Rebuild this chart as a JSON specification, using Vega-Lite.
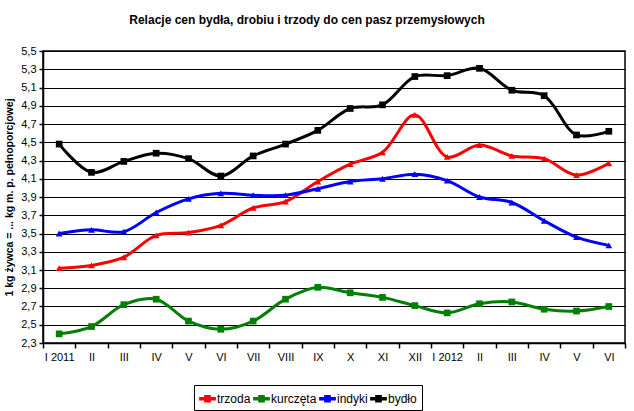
{
  "$schema": "https://vega.github.io/schema/vega-lite/v6.json",
  "autosize": "none",
  "width": 582,
  "height": 292,
  "padding": {"left": 43, "top": 51, "right": 9, "bottom": 68},
  "background": "white",
  "title": {
    "text": "Relacje cen bydła, drobiu i trzody do cen pasz przemysłowych",
    "fontSize": 12,
    "fontWeight": "bold",
    "font": "Liberation Sans, Arial, sans-serif",
    "color": "black",
    "anchor": "middle",
    "frame": "group",
    "dx": -27,
    "offset": 18
  },
  "datasets": {
    "d": [
      {"i": 0, "s": "trzoda", "v": 3.12}, {"i": 1, "s": "trzoda", "v": 3.15}, {"i": 2, "s": "trzoda", "v": 3.24}, {"i": 3, "s": "trzoda", "v": 3.48}, {"i": 4, "s": "trzoda", "v": 3.51}, {"i": 5, "s": "trzoda", "v": 3.59}, {"i": 6, "s": "trzoda", "v": 3.78}, {"i": 7, "s": "trzoda", "v": 3.85}, {"i": 8, "s": "trzoda", "v": 4.07}, {"i": 9, "s": "trzoda", "v": 4.26}, {"i": 10, "s": "trzoda", "v": 4.39}, {"i": 11, "s": "trzoda", "v": 4.80}, {"i": 12, "s": "trzoda", "v": 4.34}, {"i": 13, "s": "trzoda", "v": 4.47}, {"i": 14, "s": "trzoda", "v": 4.35}, {"i": 15, "s": "trzoda", "v": 4.32}, {"i": 16, "s": "trzoda", "v": 4.14}, {"i": 17, "s": "trzoda", "v": 4.27},
      {"i": 0, "s": "kurczęta", "v": 2.40}, {"i": 1, "s": "kurczęta", "v": 2.48}, {"i": 2, "s": "kurczęta", "v": 2.72}, {"i": 3, "s": "kurczęta", "v": 2.78}, {"i": 4, "s": "kurczęta", "v": 2.54}, {"i": 5, "s": "kurczęta", "v": 2.45}, {"i": 6, "s": "kurczęta", "v": 2.54}, {"i": 7, "s": "kurczęta", "v": 2.78}, {"i": 8, "s": "kurczęta", "v": 2.91}, {"i": 9, "s": "kurczęta", "v": 2.85}, {"i": 10, "s": "kurczęta", "v": 2.80}, {"i": 11, "s": "kurczęta", "v": 2.71}, {"i": 12, "s": "kurczęta", "v": 2.63}, {"i": 13, "s": "kurczęta", "v": 2.73}, {"i": 14, "s": "kurczęta", "v": 2.75}, {"i": 15, "s": "kurczęta", "v": 2.67}, {"i": 16, "s": "kurczęta", "v": 2.65}, {"i": 17, "s": "kurczęta", "v": 2.70},
      {"i": 0, "s": "indyki", "v": 3.50}, {"i": 1, "s": "indyki", "v": 3.54}, {"i": 2, "s": "indyki", "v": 3.52}, {"i": 3, "s": "indyki", "v": 3.73}, {"i": 4, "s": "indyki", "v": 3.88}, {"i": 5, "s": "indyki", "v": 3.94}, {"i": 6, "s": "indyki", "v": 3.92}, {"i": 7, "s": "indyki", "v": 3.92}, {"i": 8, "s": "indyki", "v": 3.99}, {"i": 9, "s": "indyki", "v": 4.07}, {"i": 10, "s": "indyki", "v": 4.10}, {"i": 11, "s": "indyki", "v": 4.15}, {"i": 12, "s": "indyki", "v": 4.08}, {"i": 13, "s": "indyki", "v": 3.90}, {"i": 14, "s": "indyki", "v": 3.84}, {"i": 15, "s": "indyki", "v": 3.64}, {"i": 16, "s": "indyki", "v": 3.46}, {"i": 17, "s": "indyki", "v": 3.37},
      {"i": 0, "s": "bydło", "v": 4.48}, {"i": 1, "s": "bydło", "v": 4.17}, {"i": 2, "s": "bydło", "v": 4.29}, {"i": 3, "s": "bydło", "v": 4.38}, {"i": 4, "s": "bydło", "v": 4.32}, {"i": 5, "s": "bydło", "v": 4.13}, {"i": 6, "s": "bydło", "v": 4.35}, {"i": 7, "s": "bydło", "v": 4.48}, {"i": 8, "s": "bydło", "v": 4.63}, {"i": 9, "s": "bydło", "v": 4.87}, {"i": 10, "s": "bydło", "v": 4.91}, {"i": 11, "s": "bydło", "v": 5.22}, {"i": 12, "s": "bydło", "v": 5.23}, {"i": 13, "s": "bydło", "v": 5.31}, {"i": 14, "s": "bydło", "v": 5.07}, {"i": 15, "s": "bydło", "v": 5.01}, {"i": 16, "s": "bydło", "v": 4.58}, {"i": 17, "s": "bydło", "v": 4.62}
    ]
  },
  "data": {"name": "d"},
  "encoding": {
    "x": {
      "field": "i",
      "type": "ordinal",
      "bandPosition": 0.5,
      "scale": {"type": "band", "paddingInner": 0, "paddingOuter": 0},
      "axis": {
        "title": null,
        "labelAngle": 0,
        "tickBand": "extent",
        "domainColor": "black",
        "domainWidth": 1.5,
        "tickColor": "black",
        "tickWidth": 1.5,
        "tickSize": 5,
        "labelPadding": 3,
        "labelFontSize": 11,
        "labelColor": "black",
        "labelFont": "Liberation Sans, Arial, sans-serif",
        "labelExpr": "['I 2011','II','III','IV','V','VI','VII','VIII','IX','X','XI','XII','I 2012','II','III','IV','V','VI'][datum.value]"
      }
    },
    "y": {
      "field": "v",
      "type": "quantitative",
      "scale": {"domain": [2.3, 5.5], "nice": false, "zero": false},
      "axis": {
        "title": "1 kg żywca = ... kg m. p. pełnoporcjowej",
        "titleFontSize": 10.5,
        "titleFontWeight": "bold",
        "titleColor": "black",
        "titleFont": "Liberation Sans, Arial, sans-serif",
        "titleX": -29,
        "values": [2.3, 2.5, 2.7, 2.9, 3.1, 3.3, 3.5, 3.7, 3.9, 4.1, 4.3, 4.5, 4.7, 4.9, 5.1, 5.3, 5.5],
        "labelExpr": "replace(format(datum.value, '.1f'), '.', ',')",
        "labelFontSize": 11,
        "labelColor": "black",
        "labelFont": "Liberation Sans, Arial, sans-serif",
        "labelPadding": 3,
        "grid": true,
        "gridColor": "black",
        "gridWidth": 1.2,
        "gridOpacity": 1,
        "domainColor": "black",
        "domainWidth": 1.5,
        "tickColor": "black",
        "tickWidth": 1.5,
        "tickSize": 4
      }
    },
    "color": {
      "field": "s",
      "type": "nominal",
      "scale": {"domain": ["trzoda", "kurczęta", "indyki", "bydło"], "range": ["#ff0000", "#008000", "#0000ff", "#000000"]},
      "legend": {
        "title": null,
        "orient": "none",
        "legendX": 151,
        "legendY": 334,
        "direction": "horizontal",
        "strokeColor": "black",
        "padding": 5,
        "columnPadding": 2,
        "labelFontSize": 12,
        "labelColor": "black",
        "labelFont": "Liberation Sans, Arial, sans-serif",
        "labelOffset": 1,
        "symbolType": "M-1,-0.2H1V0.2H-1Z M-0.4,-0.45H0.4V0.45H-0.4Z",
        "symbolSize": 280,
        "symbolStrokeWidth": 0,
        "symbolOpacity": 1
      }
    }
  },
  "layer": [
    {
      "mark": {"type": "line", "interpolate": "catmull-rom", "strokeWidth": 3},
      "encoding": {"detail": {"field": "s"}}
    },
    {
      "transform": [{"filter": "datum.s === 'trzoda' || datum.s === 'indyki'"}],
      "mark": {"type": "point", "shape": "triangle-up", "filled": true, "opacity": 1, "size": 45}
    },
    {
      "transform": [{"filter": "datum.s === 'kurczęta' || datum.s === 'bydło'"}],
      "mark": {"type": "point", "shape": "square", "filled": true, "opacity": 1, "size": 45}
    }
  ],
  "config": {
    "view": {"stroke": "black", "strokeWidth": 1.5}
  }
}
